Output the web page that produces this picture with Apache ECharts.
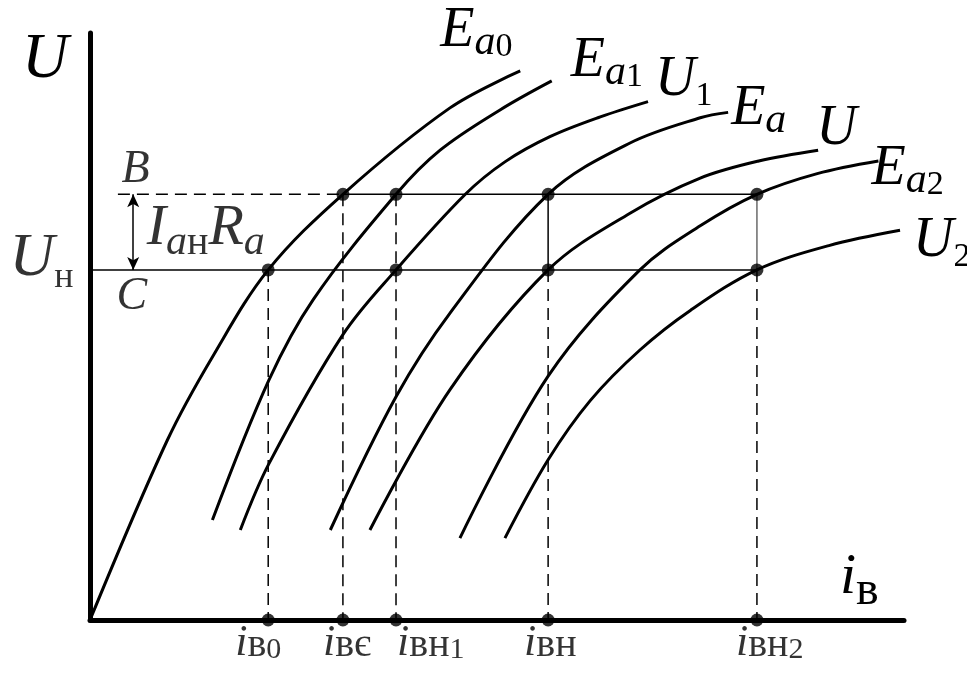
<!DOCTYPE html>
<html>
<head>
<meta charset="utf-8">
<script src="https://cdn.jsdelivr.net/npm/echarts@6/dist/echarts.min.js"></script>
<style>
  html, body { margin: 0; padding: 0; background: #fff; }
  #chart { width: 967px; height: 679px; }
</style>
</head>
<body>
<div id="chart"></div>
<script>
// ---- data -------------------------------------------------------------
// excitation current marks on the i_в axis
const currentNames  = ['i_{в0}', 'i_{вє}', 'i_{вн1}', 'i_{вн}', 'i_{вн2}'];
const currentValues = [19.8, 28.1, 34.0, 50.9, 74.1];

// voltage levels B and C (U_н)
const levelB = 47.3;
const levelC = 38.9;
const bLineStart = 3.1;   // where the dashed B level begins
const arrowX = 4.8;       // I_ан·R_a drop arrow

// characteristic curves, in drawing order
const curveNames = ['E_{a0}', 'E_{a1}', 'U_{1}', 'E_{a}', 'U', 'E_{a2}', 'U_{2}'];
const curveEa0 = [[0, 0], [8.6, 20], [13.7, 29.4], [19.8, 38.9], [28.1, 47.3], [40, 56.9], [47.8, 61]];
const curveEa1 = [[13.6, 11.1], [19.9, 26.7], [24.8, 35.6], [34.0, 47.3], [38.9, 52.2], [45.6, 56.7], [51.3, 59.9]];
const curveU1  = [[16.7, 10], [19.9, 17.4], [28.1, 31.7], [34.0, 38.9], [41.7, 47.3], [46.1, 50.9], [51.1, 53.7], [56.7, 55.9], [62, 57.6]];
const curveEa  = [[26.7, 10], [34.0, 24.8], [40, 34.1], [50.9, 47.3], [60, 53], [67.8, 55.8], [70.9, 56.4]];
const curveU   = [[31.1, 10], [40, 25.6], [50.9, 38.9], [60, 45.2], [67.8, 49.1], [74.3, 51.0], [80.9, 52.2]];
const curveEa2 = [[41.1, 9.1], [50.9, 27.1], [61.1, 38.9], [67.8, 43.8], [74.1, 47.3], [80.8, 49.6], [87.6, 51]];
const curveU2  = [[46.1, 9.1], [50.9, 17.8], [55.6, 24.4], [61.1, 30], [66.7, 34.4], [74.1, 38.9], [82.1, 41.6], [90, 43.3]];
const curves = [curveEa0, curveEa1, curveU1, curveEa, curveU, curveEa2, curveU2];

// ---- text helpers -------------------------------------------------------
const fam = '"Liberation Serif", "Times New Roman", serif';

// Rich text set: an italic main letter on top of the line box and
// subscripts sitting `drop` px below the main baseline.
function richSet(main, latin, cyr, dig, drop) {
  const q = 0.1625 * Math.max(latin, cyr, dig);
  const L = drop + 0.8375 * main + q;
  const base = { fontFamily: fam, color: '#000', lineHeight: L };
  return {
    main: main,
    L: L,
    rich: {
      m: Object.assign({}, base, { fontStyle: 'italic', fontSize: main, verticalAlign: 'top' }),
      s: Object.assign({}, base, { fontStyle: 'italic', fontSize: latin, verticalAlign: 'bottom' }),
      c: Object.assign({}, base, { fontSize: cyr, verticalAlign: 'bottom' }),
      d: Object.assign({}, base, { fontSize: dig, verticalAlign: 'bottom' })
    }
  };
}

// vertical offset of a middle-aligned block whose main baseline lies `b` px below the anchor
function middleDy(set, b) {
  return b - 0.8375 * set.main + set.L / 2;
}

// 'E_{a0}' -> '{m|E}{s|a}{d|0}'
function toRich(label) {
  let out = '';
  const re = /_\{([^}]*)\}|([^_]+)/g;
  let m;
  while ((m = re.exec(label))) {
    if (m[2]) { out += '{m|' + m[2] + '}'; continue; }
    for (const ch of m[1]) {
      const cls = /[0-9]/.test(ch) ? 'd' : /[внє]/.test(ch) ? 'c' : 's';
      out += '{' + cls + '|' + ch + '}';
    }
  }
  return out;
}

const curveSet = richSet(56, 42, 40, 34, 7);
// [dx, baseline below the curve end]
const curveLabelPos = [[-85, -21], [14, -1], [2, -2], [-2, 16], [-7, -2], [-12, 27], [8, 30]];
const currentSet = richSet(44, 40, 40, 30, 1);
const currentLabelDx = [-33, -20, 1, -24, -21];

const black = '#000';
const thin = 1.5;
const dash = [12, 7];

// ---- series -------------------------------------------------------------
const series = [];

curves.forEach((pts, i) => {
  series.push({
    name: curveNames[i],
    type: 'line',
    data: pts,
    smooth: 0.35,
    showSymbol: false,
    symbol: 'none',
    z: 4,
    lineStyle: { color: black, width: 3 },
    endLabel: {
      show: true,
      formatter: toRich(curveNames[i]),
      rich: curveSet.rich,
      distance: 5,
      offset: [curveLabelPos[i][0], middleDy(curveSet, curveLabelPos[i][1])]
    }
  });
});

function segment(a, b, style) {
  series.push({
    type: 'line',
    data: [a, b],
    symbol: 'none',
    z: 3,
    lineStyle: Object.assign({ color: black, width: thin, type: 'solid' }, style)
  });
}

// level B: dashed to the first knot, solid onward
segment([bLineStart, levelB], [currentValues[1], levelB], { type: dash });
segment([currentValues[1], levelB], [currentValues[4], levelB], {});
// level C (U_н)
segment([0, levelC], [currentValues[4], levelC], {});

// drop lines from the knots to the current axis
const dropFrom = [levelC, levelB, levelB, levelC, levelC];
currentValues.forEach((v, i) => segment([v, dropFrom[i]], [v, 0], { type: dash }));
// solid links between levels B and C
segment([currentValues[3], levelB], [currentValues[3], levelC], {});
segment([currentValues[4], levelB], [currentValues[4], levelC], { color: '#6a6a6a' });

// knots
const knots = [
  [currentValues[0], levelC],
  [currentValues[1], levelB],
  [currentValues[2], levelB], [currentValues[2], levelC],
  [currentValues[3], levelB], [currentValues[3], levelC],
  [currentValues[4], levelB], [currentValues[4], levelC]
];
series.push({
  type: 'scatter',
  data: knots,
  symbolSize: 13,
  z: 6,
  itemStyle: { color: black },
  markLine: {
    silent: true,
    symbol: ['arrow', 'arrow'],
    symbolSize: [9, 13],
    label: { show: false },
    lineStyle: { color: black, width: thin, type: 'solid' },
    data: [[{ coord: [arrowX, levelB] }, { coord: [arrowX, levelC] }]]
  }
});

// marks on the current axis with their names
series.push({
  type: 'scatter',
  data: currentValues.map((v, i) => ({
    value: [v, 0],
    label: { offset: [currentLabelDx[i], -5.5] }
  })),
  symbolSize: 13,
  z: 6,
  itemStyle: { color: black },
  label: {
    show: true,
    position: 'bottom',
    distance: 0,
    align: 'left',
    formatter: p => toRich(currentNames[p.dataIndex]),
    rich: currentSet.rich
  }
});

// level annotations
const unSet = richSet(62, 36, 36, 36, 10);
const bcSet = richSet(46, 30, 30, 30, 0);
const irSet = richSet(58, 42, 40, 34, 9);
const clear = { color: 'rgba(0,0,0,0)' };
series.push({
  type: 'scatter',
  symbolSize: 1,
  itemStyle: clear,
  z: 5,
  data: [
    { value: [0, levelC], label: { show: true, position: 'left', distance: 0,
        offset: [-16, middleDy(unSet, 10)], formatter: toRich('U_{н}'), rich: unSet.rich } },
    { value: [bLineStart, levelB], label: { show: true, position: 'right', distance: 0,
        offset: [3, middleDy(bcSet, -9)], formatter: '{m|B}', rich: bcSet.rich } },
    { value: [bLineStart, levelC], label: { show: true, position: 'right', distance: 0,
        offset: [-2, middleDy(bcSet, 43)], formatter: '{m|C}', rich: bcSet.rich } },
    { value: [arrowX, (levelB + levelC) / 2], label: { show: true, position: 'right', distance: 0,
        offset: [13, middleDy(irSet, 16)], formatter: toRich('I_{ан}R_{a}'), rich: irSet.rich } }
  ]
});

// ---- chart --------------------------------------------------------------
const axisBase = {
  type: 'value',
  min: 0,
  axisLine: { show: true, lineStyle: { color: black, width: 5 } },
  axisTick: { show: false },
  axisLabel: { show: false },
  splitLine: { show: false }
};

const uSet = richSet(64, 40, 40, 40, 0);
const ibSet = richSet(58, 48, 48, 48, 11);

const chart = echarts.init(document.getElementById('chart'), null, { renderer: 'canvas' });
chart.setOption({
  animation: false,
  backgroundColor: '#fff',
  grid: { left: 90, top: 33, width: 814, height: 587 },
  xAxis: Object.assign({}, axisBase, { max: 90.44 }),
  yAxis: Object.assign({}, axisBase, { max: 65.22 }),
  graphic: [
    { type: 'text', x: 22, y: 82 + middleDy(uSet, 0), z: 10,
      style: { text: '{m|U}', rich: uSet.rich, align: 'left', verticalAlign: 'middle' } },
    { type: 'text', x: 840, y: 597 + middleDy(ibSet, 0), z: 10,
      style: { text: toRich('i_{в}'), rich: ibSet.rich, align: 'left', verticalAlign: 'middle' } }
  ],
  series: series
});
</script>
</body>
</html>
